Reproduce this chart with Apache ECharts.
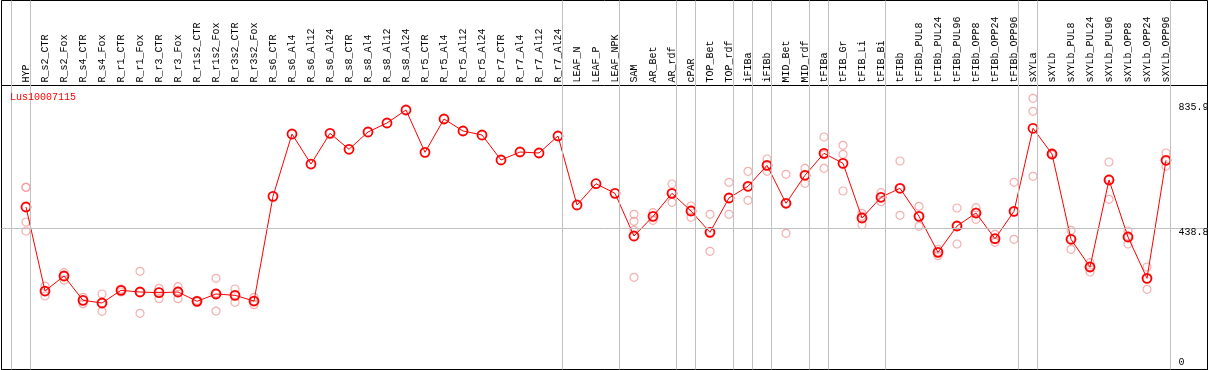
<!DOCTYPE html>
<html>
<head>
<meta charset="utf-8">
<script src="https://cdn.jsdelivr.net/npm/echarts@6/dist/echarts.min.js"></script>
<style>
html,body{margin:0;padding:0;background:#fff;}
#chart{width:1209px;height:370px;}
</style>
</head>
<body>
<div id="chart"></div>
<script>
// ---- data ----
const geneName = 'Lus10007115';
const categories = ['HYP','R_s2_CTR','R_s2_Fox','R_s4_CTR','R_s4_Fox','R_r1_CTR','R_r1_Fox','R_r3_CTR','R_r3_Fox','R_r1s2_CTR','R_r1s2_Fox','R_r3s2_CTR','R_r3s2_Fox','R_s6_CTR','R_s6_Al4','R_s6_Al12','R_s6_Al24','R_s8_CTR','R_s8_Al4','R_s8_Al12','R_s8_Al24','R_r5_CTR','R_r5_Al4','R_r5_Al12','R_r5_Al24','R_r7_CTR','R_r7_Al4','R_r7_Al12','R_r7_Al24','LEAF_N','LEAF_P','LEAF_NPK','SAM','AR_Bet','AR_rdf','cPAR','TOP_Bet','TOP_rdf','iFIBa','iFIBb','MID_Bet','MID_rdf','tFIBa','tFIB_Gr','tFIB_Li','tFIB_Bi','tFIBb','tFIBb_PUL8','tFIBb_PUL24','tFIBb_PUL96','tFIBb_OPP8','tFIBb_OPP24','tFIBb_OPP96','sXYLa','sXYLb','sXYLb_PUL8','sXYLb_PUL24','sXYLb_PUL96','sXYLb_OPP8','sXYLb_OPP24','sXYLb_OPP96'];
const meanValues = [506,237.9,285.8,208.3,199.7,240.1,234.8,232.6,234.8,205.1,228.4,224.2,206.0,540.0,738.8,643.0,741.0,690.0,745.2,773.9,815.4,680.4,786.6,748.4,735.6,655.9,681.3,678.2,732.4,512.3,580.2,549.6,413.4,476.2,549.6,493.2,425.2,534.7,572.0,638.9,517.8,607.1,677.2,645.3,470.8,536.9,565.6,476.2,361.3,445.3,486.7,404.8,492.2,757.0,675.0,402.9,314.5,592.0,410.2,278.4,654.9];
const replicateValues = [
  [568.8,568.8,458.1,429.4],[253.8,237.9,222.0],[296.3,285.8,273.0],[217.9,208.3,197.5],[228.4,199.7,173.2],
  [244.3,240.1,234.8],[300.8,234.8,166.8],[246.6,234.8,213.4],[251.7,237.9,213.4],[202.9,204.9,207.8],
  [278.4,231.6,174.1],[244.3,225.2,201.9],[217.9,206.0,194.3],
  [],[],[],[],[],[],[],[],[],[],[],[],[],[],[],[],[],[],[],
  [482.7,460.3,431.6,281.6],[487.7,476.2,463.5],[579.3,549.6,520.9],[509.1,496.4,473.0],[482.7,426.2,364.6],
  [584.7,534.7,482.7],[619.8,569.7,527.3],[659.1,638.3,619.8],[610.2,518.7,422.0],[629.3,608.0,581.5],
  [729.2,672.8,629.3],[702.7,674.0,556.9],[485.9,477.2,449.4],[551.6,536.2,522.8],[652.7,565.6,479.4],
  [508.1,476.2,444.4],[371.0,362.3,350.6],[502.7,445.3,387.9],[503.7,489.9,466.7],[418.8,403.8,393.3],
  [584.7,491.5,402.9],[852.7,811.2,603.9],[678.2,675.0,671.8],[431.6,405.4,371.0],[328.2,316.1,298.6],
  [649.5,595.2,530.5],[429.4,413.4,387.9],[314.5,277.2,243.4],[678.2,652.7,635.7]
];
const yTickLabels = [0, 438.8, 835.9];
const midLine = 438.8;
// separators are drawn after these category indices
const groupEnds = [-1, 0, 28, 31, 34, 35, 37, 38, 39, 41, 42, 45, 52, 53, 60];

// ---- layout ----
const MONO = 'Liberation Mono';
const Y_MIN = -12.4, Y_MAX = 893.5;
const W = 1209;
const PLOT_L = 16.5, PLOT_R = 33.5;          // category band area
const FRAME_L = 1.5, FRAME_R = 1.5;
const band = (W - PLOT_L - PLOT_R) / categories.length;
const sepMin = -0.5 - (PLOT_L - FRAME_L) / band;
const sepMax = categories.length - 0.5 + (PLOT_R - FRAME_R) / band;

const repData = [];
replicateValues.forEach((reps, i) => reps.forEach(v => repData.push([i, v])));

const chart = echarts.init(document.getElementById('chart'), null, {renderer: 'canvas'});
chart.setOption({
  animation: false,
  backgroundColor: '#fff',
  title: {
    text: geneName, left: 10, top: 92, padding: 0,
    textStyle: {color: '#ff0000', fontFamily: MONO, fontSize: 10, fontWeight: 'normal'}
  },
  grid: [
    {left: PLOT_L, right: PLOT_R, top: 85.5, bottom: 0.5},
    {left: FRAME_L, right: FRAME_R, top: 0.5, bottom: 0.5},
    {left: FRAME_L, right: FRAME_R, top: 85.5, bottom: 0.5, show: true, borderColor: '#000', borderWidth: 1, backgroundColor: 'transparent'},
    {left: FRAME_L, right: FRAME_R, top: 0.5, bottom: 0.5, show: true, borderColor: '#000', borderWidth: 1, backgroundColor: 'transparent'}
  ],
  xAxis: [
    {gridIndex: 0, type: 'category', data: categories, position: 'top', boundaryGap: true,
     axisLine: {show: false}, axisTick: {show: false}, splitLine: {show: false},
     axisLabel: {interval: 0, rotate: 90, margin: 3, color: '#000', fontFamily: MONO, fontSize: 10}},
    {gridIndex: 1, type: 'value', min: sepMin, max: sepMax, show: false},
    {gridIndex: 2, type: 'value', min: 0, max: 1, show: false},
    {gridIndex: 3, type: 'value', min: 0, max: 1, show: false}
  ],
  yAxis: [
    {gridIndex: 0, type: 'value', min: Y_MIN, max: Y_MAX, show: false},
    {gridIndex: 1, type: 'value', min: 0, max: 1, show: false},
    {gridIndex: 2, type: 'value', min: Y_MIN, max: Y_MAX, show: false},
    {gridIndex: 3, type: 'value', min: 0, max: 1, show: false}
  ],
  series: [
    {
      type: 'line', xAxisIndex: 1, yAxisIndex: 1, data: [], silent: true, z: 1, clip: false,
      markLine: {
        silent: true, symbol: ['none', 'none'], animation: false,
        lineStyle: {color: '#c0c0c0', width: 1, type: 'solid'},
        label: {show: false},
        data: groupEnds.map(k => [{coord: [k + 0.24, 0]}, {coord: [k + 0.24, 1]}])
      }
    },
    {
      type: 'line', xAxisIndex: 2, yAxisIndex: 2, data: [], silent: true, z: 1,
      markLine: {
        silent: true, symbol: ['none', 'none'], animation: false,
        lineStyle: {color: '#c0c0c0', width: 1, type: 'solid'},
        label: {show: false},
        data: [{yAxis: midLine}]
      }
    },
    {
      type: 'scatter', xAxisIndex: 0, yAxisIndex: 0, data: repData, z: 3,
      symbol: 'circle', symbolSize: 8,
      itemStyle: {color: 'rgba(255,255,255,0)', borderColor: '#f09a9a', borderWidth: 1.2}
    },
    {
      type: 'line', xAxisIndex: 0, yAxisIndex: 0, data: meanValues, z: 4, clip: false,
      symbol: 'circle', symbolSize: 9, showAllSymbol: true,
      lineStyle: {color: '#ff0000', width: 1},
      itemStyle: {color: 'rgba(255,255,255,0)', borderColor: '#ff0000', borderWidth: 1.8}
    },
    {
      type: 'line', xAxisIndex: 0, yAxisIndex: 0, data: [], z: 5, clip: false, silent: true,
      markLine: {
        silent: true, symbol: ['none', 'none'], animation: false,
        lineStyle: {color: 'rgba(0,0,0,0)', width: 1},
        label: {show: true, position: 'end', distance: 3, color: '#000', fontFamily: MONO, fontSize: 10,
                formatter: p => String(p.value)},
        data: yTickLabels.map(v => ({yAxis: v, label: {offset: v === 0 ? [0, -3.5] : [0, 4]}}))
      }
    }
  ]
});
</script>
</body>
</html>
